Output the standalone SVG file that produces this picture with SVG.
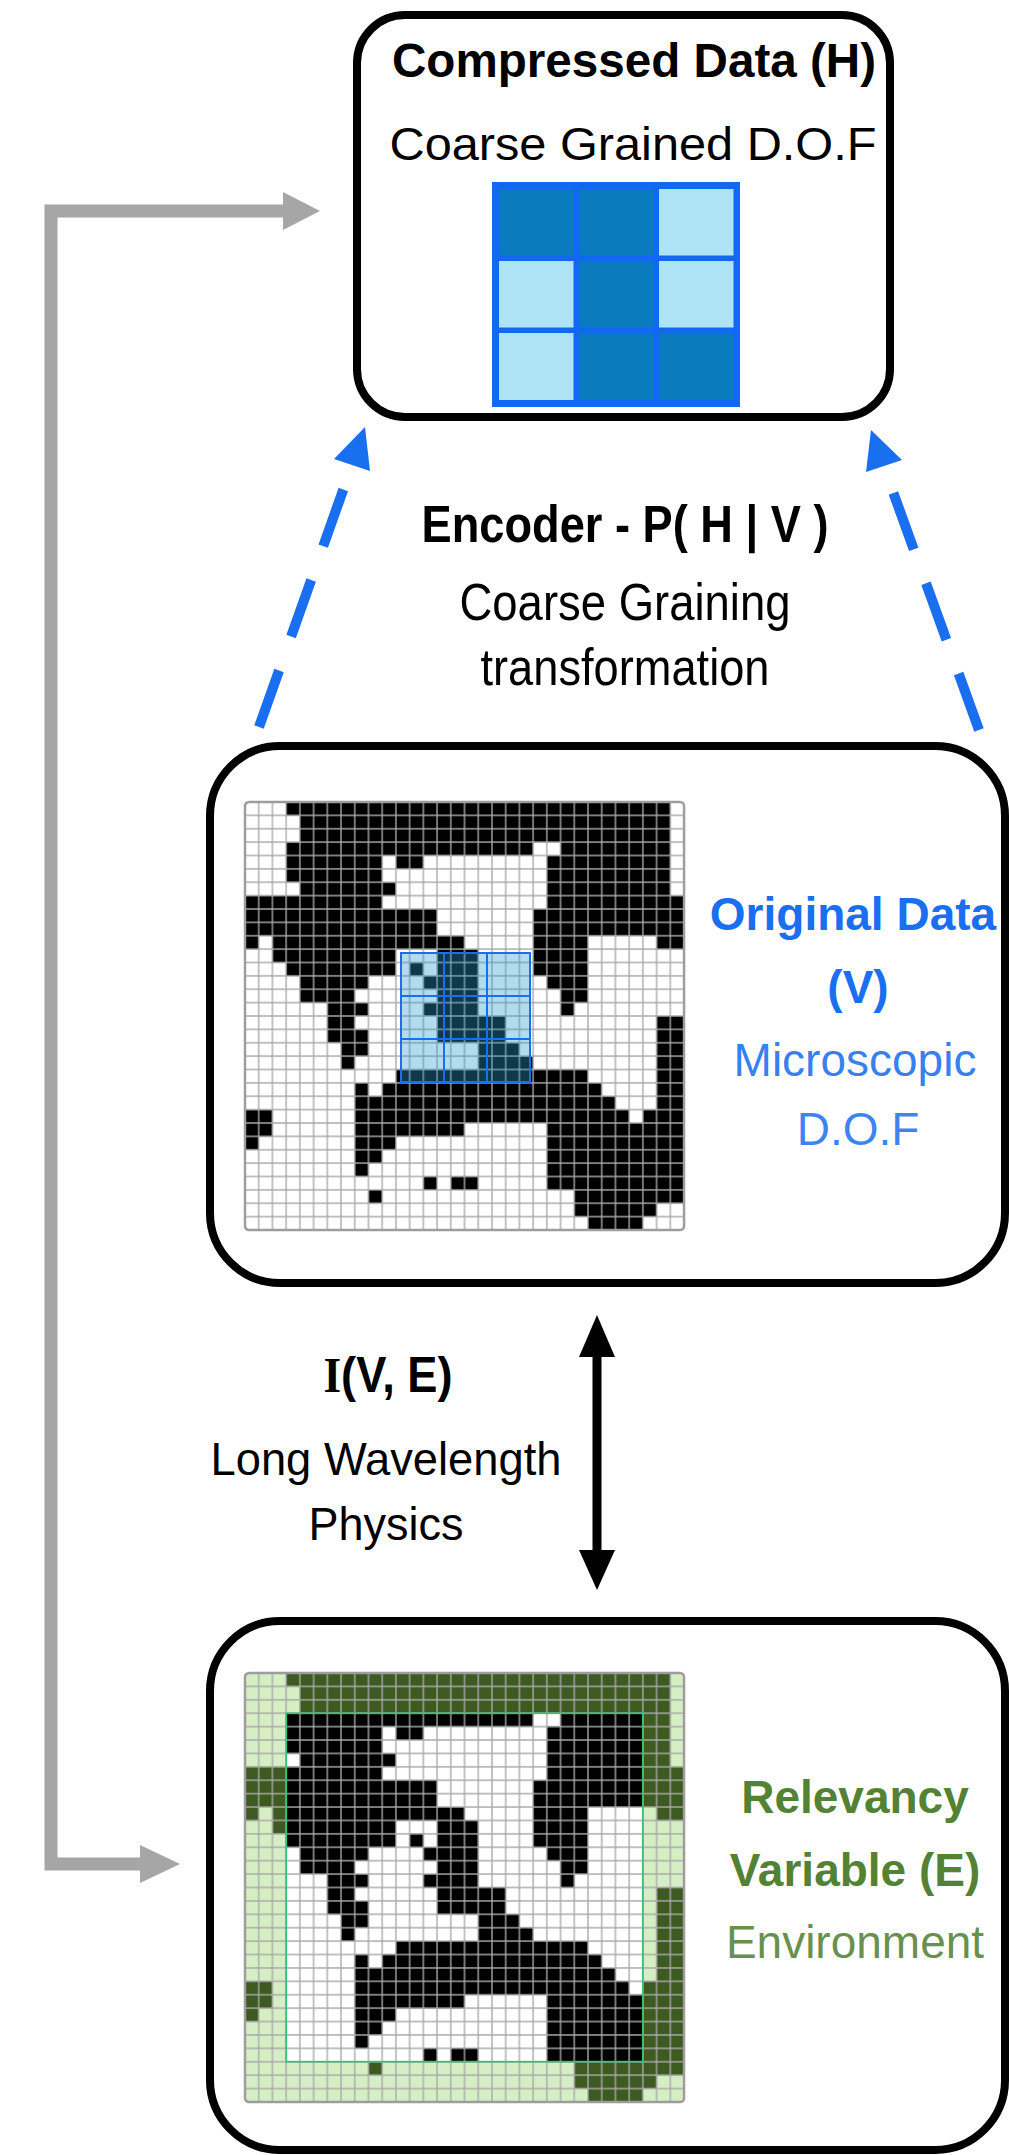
<svg xmlns="http://www.w3.org/2000/svg" xmlns:xlink="http://www.w3.org/1999/xlink" width="1009" height="2155" viewBox="0 0 1009 2155">
<style>
.box{fill:#fff;stroke:#000;stroke-width:8}
.t{font-family:"Liberation Sans",Arial,Helvetica,sans-serif;text-anchor:middle}
.b{font-weight:bold}
.blue{fill:#1a6ef0}
.green{fill:#548235}
.dash{fill:none;stroke:#1a6ef0;stroke-width:10;stroke-dasharray:60 36}
.grey{fill:none;stroke:#a6a6a6;stroke-width:13}
</style>
<defs>
<pattern id="gp" width="1" height="1" patternUnits="userSpaceOnUse">
<path d="M0 0H1V1H0Z" fill="none" stroke="#a9a9a9" stroke-width="0.1"/>
</pattern>
<clipPath id="inner" clipPathUnits="userSpaceOnUse"><rect x="3" y="3" width="26" height="26"/></clipPath>
<path id="cells" d="M3 0h28v1h-28z M4 1h27v1h-27z M4 2h27v1h-27z M3 3h18v1h-18z M23 3h8v1h-8z M3 4h7v1h-7z M11 4h2v1h-2z M22 4h9v1h-9z M3 5h7v1h-7z M22 5h9v1h-9z M4 6h7v1h-7z M22 6h9v1h-9z M0 7h10v1h-10z M22 7h10v1h-10z M0 8h14v1h-14z M21 8h11v1h-11z M0 9h14v1h-14z M21 9h11v1h-11z M0 10h1v1h-1z M2 10h14v1h-14z M21 10h4v1h-4z M30 10h2v1h-2z M2 11h9v1h-9z M14 11h3v1h-3z M21 11h4v1h-4z M3 12h8v1h-8z M12 12h1v1h-1z M14 12h3v1h-3z M21 12h4v1h-4z M4 13h5v1h-5z M13 13h4v1h-4z M22 13h3v1h-3z M4 14h4v1h-4z M14 14h3v1h-3z M23 14h2v1h-2z M6 15h3v1h-3z M13 15h4v1h-4z M23 15h1v1h-1z M6 16h2v1h-2z M14 16h5v1h-5z M30 16h2v1h-2z M6 17h3v1h-3z M14 17h5v1h-5z M30 17h2v1h-2z M7 18h2v1h-2z M17 18h3v1h-3z M30 18h2v1h-2z M7 19h1v1h-1z M17 19h4v1h-4z M30 19h2v1h-2z M11 20h14v1h-14z M30 20h2v1h-2z M8 21h1v1h-1z M10 21h16v1h-16z M30 21h2v1h-2z M8 22h19v1h-19z M30 22h2v1h-2z M0 23h2v1h-2z M8 23h20v1h-20z M29 23h3v1h-3z M0 24h2v1h-2z M8 24h8v1h-8z M22 24h10v1h-10z M0 25h1v1h-1z M8 25h3v1h-3z M22 25h10v1h-10z M8 26h2v1h-2z M22 26h10v1h-10z M8 27h1v1h-1z M22 27h10v1h-10z M13 28h1v1h-1z M15 28h2v1h-2z M22 28h10v1h-10z M9 29h1v1h-1z M24 29h8v1h-8z M24 30h6v1h-6z M25 31h4v1h-4z"/>
</defs>
<rect width="1009" height="2155" fill="#fff"/>

<g id="connectors">
<path class="grey" d="M283 211H51V1864H140"/>
<polygon points="320,211 283,192 283,230" fill="#a6a6a6"/>
<polygon points="180,1864 140,1845 140,1883" fill="#a6a6a6"/>
<path class="dash" d="M259 727L352 465"/>
<polygon points="365,427 334,459 370,471" fill="#1a6ef0"/>
<path class="dash" d="M979 730L884 467"/>
<polygon points="871,430 866,472 902,460" fill="#1a6ef0"/>
<line x1="597" y1="1350" x2="597" y2="1556" stroke="#000" stroke-width="9"/>
<polygon points="597,1315 579,1357 615,1357" fill="#000"/>
<polygon points="597,1590 579,1550 615,1550" fill="#000"/>
</g>

<g id="encoder-label">
<text class="t b" x="625" y="542" font-size="52" textLength="407" lengthAdjust="spacingAndGlyphs">Encoder - P( H | V )</text>
<text class="t" x="625" y="620" font-size="52" textLength="331" lengthAdjust="spacingAndGlyphs">Coarse Graining</text>
<text class="t" x="625" y="685" font-size="52" textLength="289" lengthAdjust="spacingAndGlyphs">transformation</text>
</g>

<g id="mi-label">
<text class="t b" x="388" y="1392" font-size="50" textLength="129" lengthAdjust="spacingAndGlyphs"><tspan font-family="'Liberation Serif',serif">I</tspan>(V, E)</text>
<text class="t" x="386" y="1475" font-size="47" textLength="351" lengthAdjust="spacingAndGlyphs">Long Wavelength</text>
<text class="t" x="386" y="1540" font-size="47" textLength="155" lengthAdjust="spacingAndGlyphs">Physics</text>
</g>

<g id="node-compressed">
<rect class="box" x="357" y="15" width="533" height="402" rx="48"/>
<text class="t b" x="634" y="77" font-size="48" textLength="484" lengthAdjust="spacingAndGlyphs">Compressed Data (H)</text>
<text class="t" x="633" y="160" font-size="46" textLength="487" lengthAdjust="spacingAndGlyphs">Coarse Grained D.O.F</text>
<rect x="492" y="182" width="248" height="225" fill="#1268f0"/>
<rect x="499" y="189" width="74.5" height="66.5" fill="#0a7bbd"/>
<rect x="579" y="189" width="74.5" height="66.5" fill="#0a7bbd"/>
<rect x="659" y="189" width="74.5" height="66.5" fill="#ade3f5"/>
<rect x="499" y="261" width="74.5" height="66.5" fill="#ade3f5"/>
<rect x="579" y="261" width="74.5" height="66.5" fill="#0a7bbd"/>
<rect x="659" y="261" width="74.5" height="66.5" fill="#ade3f5"/>
<rect x="499" y="333" width="74.5" height="67" fill="#ade3f5"/>
<rect x="579" y="333" width="74.5" height="67" fill="#0a7bbd"/>
<rect x="659" y="333" width="74.5" height="67" fill="#0a7bbd"/>
</g>

<g id="node-original">
<rect class="box" x="210" y="746" width="795" height="537" rx="70"/>
<g transform="translate(245,802) scale(13.72,13.375)">
<rect width="32" height="32" fill="#fff"/>
<use xlink:href="#cells" fill="#000"/>
<rect width="32" height="32" fill="url(#gp)"/>
<rect width="32" height="32" rx="0.3" fill="none" stroke="#9d9d9d" stroke-width="0.18"/>
</g>
<rect x="401" y="953" width="129" height="129" fill="#2a9ccc" fill-opacity="0.36" stroke="#1a6ef0" stroke-width="2"/>
<path d="M444 953V1082M487 953V1082M401 996H530M401 1039H530" stroke="#1a6ef0" stroke-width="2" fill="none"/>
<text class="t b blue" x="853" y="930" font-size="46">Original Data</text>
<text class="t b blue" x="858" y="1003" font-size="46">(V)</text>
<text class="t blue" x="855" y="1076" font-size="46" fill-opacity="0.9">Microscopic</text>
<text class="t blue" x="858" y="1145" font-size="46" fill-opacity="0.85">D.O.F</text>
</g>

<g id="node-environment">
<rect class="box" x="210" y="1621" width="795" height="529" rx="70"/>
<g transform="translate(245,1673) scale(13.72,13.406)">
<rect width="32" height="32" fill="#d5eec4"/>
<rect x="3" y="3" width="26" height="26" fill="#fff"/>
<use xlink:href="#cells" fill="#3d5a20"/>
<use xlink:href="#cells" fill="#000" clip-path="url(#inner)"/>
<rect width="32" height="32" fill="url(#gp)"/>
<rect x="3" y="3" width="26" height="26" fill="none" stroke="#3dbf7a" stroke-width="0.13"/>
<rect width="32" height="32" rx="0.3" fill="none" stroke="#9d9d9d" stroke-width="0.18"/>
</g>
<text class="t b green" x="855" y="1813" font-size="46">Relevancy</text>
<text class="t b green" x="855" y="1886" font-size="46">Variable (E)</text>
<text class="t green" x="855" y="1958" font-size="46" fill-opacity="0.9">Environment</text>
</g>
</svg>
